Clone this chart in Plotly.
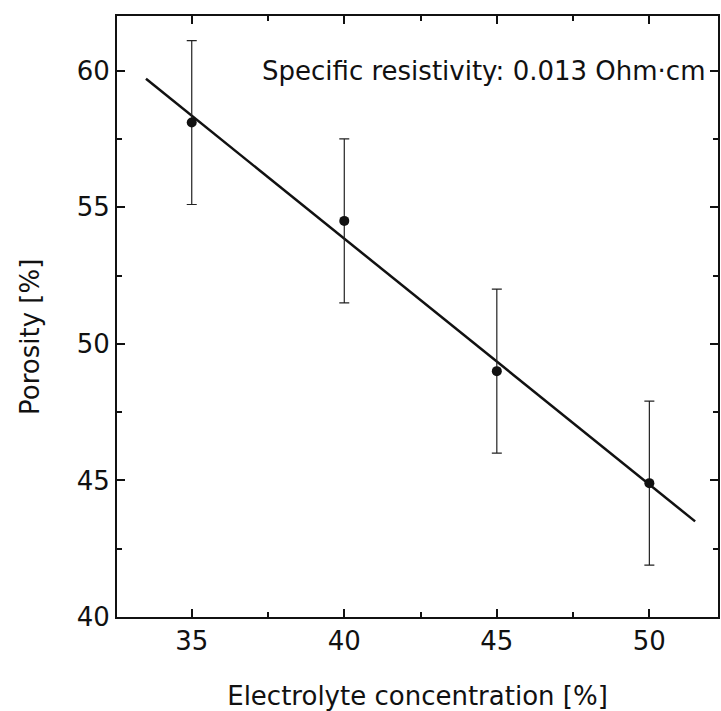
import plotly.graph_objects as go

concentration = [35, 40, 45, 50]
porosity = [58.1, 54.5, 49.0, 44.9]
porosity_err = [3.0, 3.0, 3.0, 3.0]
fit_x = [33.5, 51.5]
fit_y = [59.7, 43.5]
x_ticks = [35, 40, 45, 50]
y_ticks = [40, 45, 50, 55, 60]
note = "Specific resistivity: 0.013 Ohm·cm"
x_title = "Electrolyte concentration [%]"
y_title = "Porosity [%]"

FONT = "DejaVu Sans, sans-serif"
FS = 26

fig = go.Figure()
fig.add_trace(go.Scatter(
    x=fit_x, y=fit_y, mode="lines",
    line=dict(color="#111111", width=2.5), showlegend=False,
))
fig.add_trace(go.Scatter(
    x=concentration, y=porosity, mode="markers",
    marker=dict(color="#111111", size=10),
    error_y=dict(type="data", array=porosity_err, visible=True,
                 color="#222222", thickness=1.2, width=5),
    showlegend=False,
))

axis_common = dict(
    showgrid=False, zeroline=False, showline=True, linecolor="#111111",
    linewidth=2, mirror="ticks", ticks="inside", ticklen=8, tickwidth=1.5,
    tickcolor="#111111",
    tickfont=dict(family=FONT, size=FS, color="#111111"),
    title_font=dict(family=FONT, size=FS, color="#111111"),
)

fig.update_xaxes(
    range=[32.55, 52.25], tickvals=x_ticks,
    minor=dict(dtick=2.5, tick0=0, ticks="inside", ticklen=5, tickwidth=1.5,
               tickcolor="#111111"),
    title=dict(text=x_title, standoff=32),
    **axis_common,
)
fig.update_yaxes(
    range=[40, 62], tickvals=y_ticks,
    minor=dict(dtick=2.5, tick0=0, ticks="inside", ticklen=5, tickwidth=1.5,
               tickcolor="#111111"),
    **axis_common,
)

fig.add_annotation(
    x=0, xref="paper", xanchor="center", xshift=-87,
    y=0.466, yref="paper", yanchor="middle",
    text=y_title, textangle=-90, showarrow=False,
    font=dict(family=FONT, size=FS, color="#111111"),
)

fig.add_annotation(
    x=1, xref="paper", xanchor="right", xshift=-10,
    y=60, yref="y", yanchor="middle",
    text=note, showarrow=False,
    font=dict(family=FONT, size=FS, color="#111111"),
)

fig.update_layout(
    width=721, height=711,
    margin=dict(l=117, r=1, t=16, b=94),
    paper_bgcolor="white", plot_bgcolor="white",
)

fig.write_html("out.html")
